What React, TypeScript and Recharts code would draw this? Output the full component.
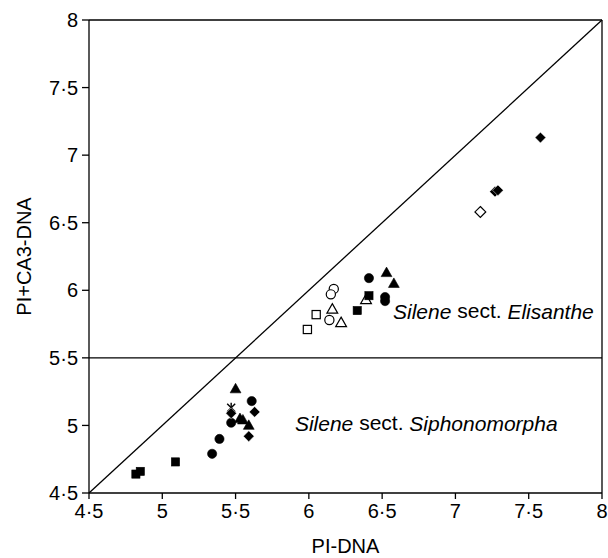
import { ScatterChart, Scatter, XAxis, YAxis, ReferenceLine, ReferenceDot } from 'recharts'

// [PI-DNA, PI+CA3-DNA]
const filledDiamond = [[7.58, 7.13], [7.27, 6.73], [7.29, 6.74], [5.63, 5.1], [5.47, 5.09], [5.59, 4.92]]
const openDiamond = [[7.17, 6.58]]
const openTriangle = [[6.39, 5.93], [6.16, 5.86], [6.22, 5.76]]
const filledTriangle = [[6.53, 6.13], [6.58, 6.05], [5.5, 5.27], [5.53, 5.05], [5.55, 5.04], [5.59, 5.0]]
const filledCircle = [[6.41, 6.09], [6.52, 5.95], [6.52, 5.92], [5.61, 5.18], [5.47, 5.02], [5.39, 4.9], [5.34, 4.79]]
const openCircle = [[6.17, 6.01], [6.15, 5.97], [6.14, 5.78]]
const filledSquare = [[6.41, 5.96], [6.33, 5.85], [5.09, 4.73], [4.82, 4.64], [4.85, 4.66]]
const openSquare = [[6.05, 5.82], [5.99, 5.71]]
const starPoints = [[5.47, 5.13]]

const ticks = [4.5, 5, 5.5, 6, 6.5, 7, 7.5, 8]

const font = '"Liberation Sans", Arial, sans-serif'
const fmt = (v: number) => String(v).replace('.', '·')
const toXY = (arr: number[][]) => arr.map(([x, y]) => ({ x, y }))

const marker = (kind: string, filled: boolean) => (props: any) => {
  const { cx, cy } = props
  const fill = filled ? '#000' : '#fff'
  const sw = filled ? 0.6 : 1.2
  if (kind === 'circle') return <circle cx={cx} cy={cy} r={4.6} fill={fill} stroke="#000" strokeWidth={sw} />
  if (kind === 'square')
    return <rect x={cx - 4.1} y={cy - 4.1} width={8.2} height={8.2} fill={fill} stroke="#000" strokeWidth={sw} />
  if (kind === 'triangle')
    return (
      <polygon
        points={`${cx},${cy - 5.6} ${cx + 5.4},${cy + 3.9} ${cx - 5.4},${cy + 3.9}`}
        fill={fill}
        stroke="#000"
        strokeWidth={sw}
      />
    )
  if (kind === 'diamond')
    return (
      <polygon
        points={`${cx},${cy - 5.4} ${cx + 5.4},${cy} ${cx},${cy + 5.4} ${cx - 5.4},${cy}`}
        fill={fill}
        stroke={filled ? '#fff' : '#000'}
        strokeWidth={filled ? 0.5 : 1.2}
      />
    )
  return (
    <g stroke="#000" strokeWidth={1.4}>
      <line x1={cx - 4} y1={cy - 4} x2={cx + 4} y2={cy + 4} />
      <line x1={cx - 4} y1={cy + 4} x2={cx + 4} y2={cy - 4} />
      <line x1={cx} y1={cy - 5} x2={cx} y2={cy} />
    </g>
  )
}

const sectionLabel = (section: string) => (props: any) => (
  <text x={props.cx} y={props.cy} fontSize={21} fontFamily={font} fill="#000" dominantBaseline="central">
    <tspan fontStyle="italic">Silene</tspan>
    {' sect. '}
    <tspan fontStyle="italic">{section}</tspan>
  </text>
)

export default function App() {
  const tickStyle = { fill: '#000', fontSize: 20, fontFamily: font }
  const line = { stroke: '#000', strokeWidth: 1.3 }
  return (
    <div style={{ position: 'absolute', left: 0, top: 0, background: '#fff' }}>
      <ScatterChart width={608} height={558} margin={{ top: 20, right: 6, left: 0, bottom: 0 }}>
        <XAxis
          type="number"
          dataKey="x"
          domain={[4.5, 8]}
          ticks={ticks}
          allowDataOverflow
          tickFormatter={fmt}
          tick={tickStyle}
          tickSize={6}
          tickMargin={5}
          height={65}
          axisLine={line}
          tickLine={line}
          label={{ value: 'PI-DNA', position: 'center', dy: 20, fill: '#000', fontSize: 20, fontFamily: font }}
        />
        <YAxis
          type="number"
          dataKey="y"
          domain={[4.5, 8]}
          ticks={ticks}
          allowDataOverflow
          tickFormatter={fmt}
          tick={tickStyle}
          tickSize={7}
          tickMargin={4}
          width={89}
          axisLine={line}
          tickLine={line}
          label={{ value: 'PI+CA3-DNA', angle: -90, position: 'center', dx: -21, fill: '#000', fontSize: 20, fontFamily: font }}
        />
        <ReferenceLine y={8} {...line} />
        <ReferenceLine x={8} {...line} />
        <ReferenceLine y={5.5} {...line} />
        <ReferenceLine segment={[{ x: 4.5, y: 4.5 }, { x: 8, y: 8 }]} {...line} />
        <Scatter data={toXY(openTriangle)} shape={marker('triangle', false)} isAnimationActive={false} />
        <Scatter data={toXY(openCircle)} shape={marker('circle', false)} isAnimationActive={false} />
        <Scatter data={toXY(openSquare)} shape={marker('square', false)} isAnimationActive={false} />
        <Scatter data={toXY(openDiamond)} shape={marker('diamond', false)} isAnimationActive={false} />
        <Scatter data={toXY(filledSquare)} shape={marker('square', true)} isAnimationActive={false} />
        <Scatter data={toXY(filledCircle)} shape={marker('circle', true)} isAnimationActive={false} />
        <Scatter data={toXY(filledTriangle)} shape={marker('triangle', true)} isAnimationActive={false} />
        <Scatter data={toXY(starPoints)} shape={marker('star', false)} isAnimationActive={false} />
        <Scatter data={toXY(filledDiamond)} shape={marker('diamond', true)} isAnimationActive={false} />
        <ReferenceDot x={6.574} y={5.847} r={0} shape={sectionLabel('Elisanthe')} />
        <ReferenceDot x={5.905} y={5.018} r={0} shape={sectionLabel('Siphonomorpha')} />
      </ScatterChart>
    </div>
  )
}
